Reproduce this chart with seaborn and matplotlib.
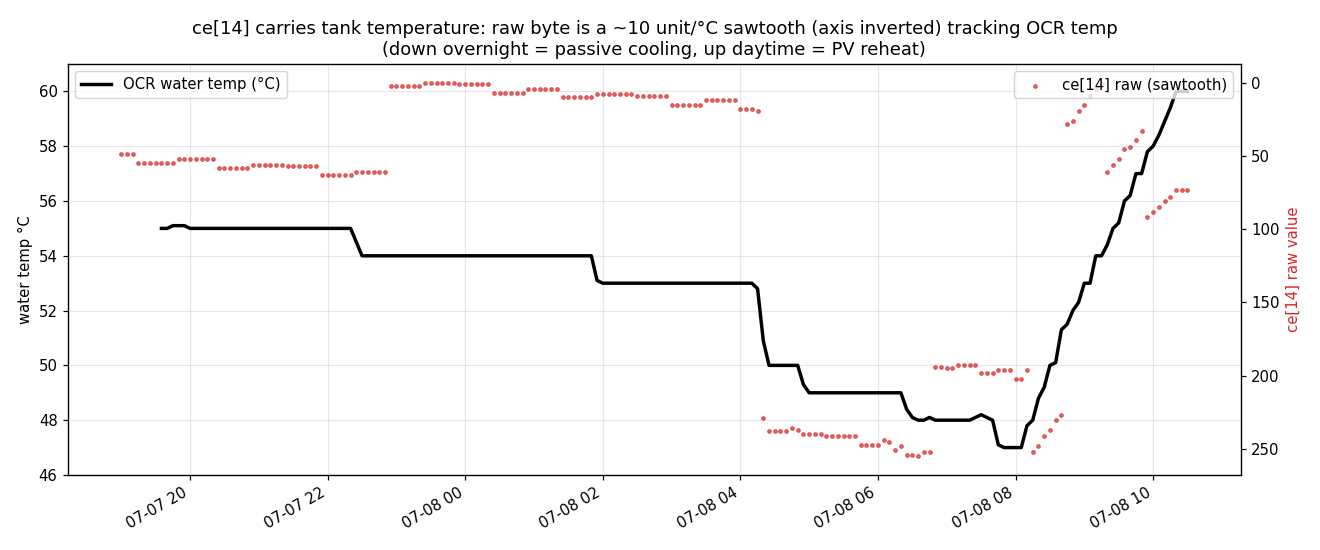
import matplotlib
matplotlib.use("Agg")
import matplotlib.pyplot as plt
import matplotlib.dates as mdates
import numpy as np
import pandas as pd
import seaborn as sns

# 5-minute log samples, 07-07 19:00 -> 07-08 10:30
times = pd.date_range("2024-07-07 19:00", periods=187, freq="5min")

ocr_temp = [
    np.nan, np.nan, np.nan, np.nan, np.nan, np.nan, np.nan, 55, 55, 55.1,
    55.1, 55.1, 55, 55, 55, 55, 55, 55, 55, 55,
    55, 55, 55, 55, 55, 55, 55, 55, 55, 55,
    55, 55, 55, 55, 55, 55, 55, 55, 55, 55,
    55, 54.5, 54, 54, 54, 54, 54, 54, 54, 54,
    54, 54, 54, 54, 54, 54, 54, 54, 54, 54,
    54, 54, 54, 54, 54, 54, 54, 54, 54, 54,
    54, 54, 54, 54, 54, 54, 54, 54, 54, 54,
    54, 54, 54, 53.1, 53, 53, 53, 53, 53, 53,
    53, 53, 53, 53, 53, 53, 53, 53, 53, 53,
    53, 53, 53, 53, 53, 53, 53, 53, 53, 53,
    53, 52.8, 50.9, 50, 50, 50, 50, 50, 50, 49.3,
    49, 49, 49, 49, 49, 49, 49, 49, 49, 49,
    49, 49, 49, 49, 49, 49, 49, 48.4, 48.1, 48.0,
    48.0, 48.1, 48.0, 48.0, 48.0, 48.0, 48.0, 48.0, 48.0, 48.1,
    48.2, 48.1, 48.0, 47.1, 47.0, 47.0, 47.0, 47.0, 47.8, 48.0,
    48.8, 49.2, 50.0, 50.1, 51.3, 51.5, 52.0, 52.3, 53.0, 53.0,
    54.0, 54.0, 54.4, 55.0, 55.2, 56.0, 56.2, 57.0, 57.0, 57.8,
    58.0, 58.4, 58.9, 59.4, 60.0, 60.0, 60.0,
]

ce14_raw = [
    49, 49, 49, 55, 55, 55, 55, 55, 55, 55,
    52, 52, 52, 52, 52, 52, 52, 58, 58, 58,
    58, 58, 58, 56, 56, 56, 56, 56, 56, 57,
    57, 57, 57, 57, 57, 63, 63, 63, 63, 63,
    63, 61, 61, 61, 61, 61, 61, 2, 2, 2,
    2, 2, 2, 0, 0, 0, 0, 0, 0, 1,
    1, 1, 1, 1, 1, 7, 7, 7, 7, 7,
    7, 4, 4, 4, 4, 4, 4, 10, 10, 10,
    10, 10, 10, 8, 8, 8, 8, 8, 8, 8,
    9, 9, 9, 9, 9, 9, 15, 15, 15, 15,
    15, 15, 12, 12, 12, 12, 12, 12, 18, 18,
    18, 19, 229, 238, 238, 238, 238, 236, 237, 240,
    240, 240, 240, 241, 241, 241, 241, 241, 241, 247,
    247, 247, 247, 244, 245, 251, 248, 254, 254, 255,
    252, 252, 194, 194, 195, 195, 193, 193, 193, 193,
    198, 198, 198, 196, 196, 196, 202, 202, 196, 252,
    248, 241, 237, 230, 227, 28, 26, 19, 15, 9,
    4, 1, 61, 56, 52, 45, 44, 39, 33, 92,
    88, 85, 81, 78, 73, 73, 73,
]

df = pd.DataFrame({"time": times, "ocr_temp": ocr_temp, "ce14_raw": ce14_raw})

DPI = 107.5
fig, ax = plt.subplots(figsize=(1320 / DPI, 550 / DPI), dpi=DPI)

sns.lineplot(data=df.dropna(subset=["ocr_temp"]), x="time", y="ocr_temp", ax=ax,
             color="black", linewidth=2.3, label="OCR water temp (°C)")
ax.set_ylim(46, 61)
ax.set_yticks(np.arange(46, 61, 2))
ax.set_ylabel("water temp °C")
ax.set_xlabel("")
ax.grid(alpha=0.3)
ax.legend(loc="upper left")

ax2 = ax.twinx()
sns.scatterplot(data=df, x="time", y="ce14_raw", ax=ax2, color="tab:red",
                s=6, alpha=0.7, edgecolor="tab:red", linewidth=0.7,
                label="ce[14] raw (sawtooth)")
ax2.invert_yaxis()
ax2.set_ylabel("ce[14] raw value", color="tab:red")
ax2.legend(loc="upper right")

ax.xaxis.set_major_locator(mdates.HourLocator(byhour=range(0, 24, 2)))
ax.xaxis.set_major_formatter(mdates.DateFormatter("%m-%d %H"))
for lbl in ax.get_xticklabels():
    lbl.set_rotation(30)
    lbl.set_ha("right")

ax.set_title("ce[14] carries tank temperature: raw byte is a ~10 unit/°C sawtooth "
             "(axis inverted) tracking OCR temp\n"
             "(down overnight = passive cooling, up daytime = PV reheat)", fontsize=12)

plt.subplots_adjust(left=0.0515, right=0.940, top=0.8836, bottom=0.1364)
plt.savefig("out.png", dpi=DPI)
plt.close()
